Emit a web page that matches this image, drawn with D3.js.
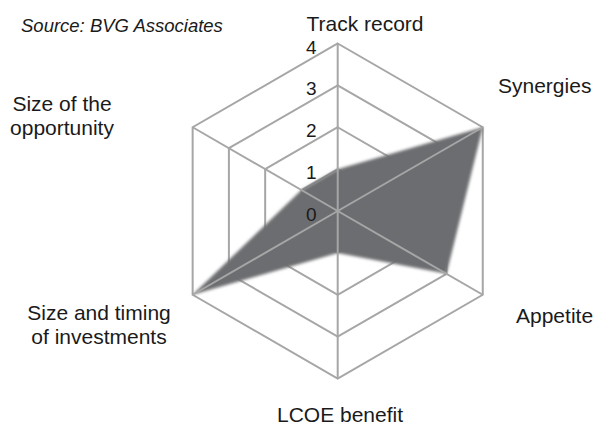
<!DOCTYPE html>
<html>
<head>
<meta charset="utf-8">
<script src="https://cdn.jsdelivr.net/npm/d3@7"></script>
<style>
  body { margin: 0; background: #fff; }
  text { font-family: "Liberation Sans", Arial, sans-serif; fill: #1a1a1a; }
</style>
</head>
<body>
<div id="chart"></div>
<script>
var w = 595, h = 425;

// axis names, clockwise from the top
var categories = ["Track record", "Synergies", "Appetite", "LCOE benefit",
                  "Size and timing of investments", "Size of the opportunity"];
var values = [1, 4, 3, 1, 4, 1];
var ticks = [0, 1, 2, 3, 4];

var cx = 337.7, cy = 211, R = 167.5;

var r = d3.scaleLinear().domain([0, 4]).range([0, R]);
var angle = d3.scaleLinear().domain([0, categories.length]).range([0, 2 * Math.PI]);

function pt(i, v) {
  var a = angle(i);
  return [cx + r(v) * Math.sin(a), cy - r(v) * Math.cos(a)];
}

var svg = d3.select("#chart").append("svg")
    .attr("width", w)
    .attr("height", h);

var defs = svg.append("defs");
defs.append("filter")
    .attr("id", "soft")
    .attr("x", "-10%").attr("y", "-10%")
    .attr("width", "120%").attr("height", "120%")
    .append("feGaussianBlur")
    .attr("stdDeviation", 1.6);

var line = d3.line().curve(d3.curveLinearClosed);

// hexagon rings
svg.append("g").selectAll("path")
    .data(ticks.slice(1))
    .enter()
    .append("path")
    .attr("d", function(t) { return line(categories.map(function(c, i) { return pt(i, t); })); })
    .attr("fill", "none")
    .attr("stroke", "#a6a6a6")
    .attr("stroke-width", 2);

// data area
svg.append("path")
    .attr("d", line(values.map(function(v, i) { return pt(i, v); })))
    .attr("fill", "#6c6d70")
    .attr("filter", "url(#soft)");

// spokes
svg.append("g").selectAll("line")
    .data(categories)
    .enter()
    .append("line")
    .attr("x1", cx).attr("y1", cy)
    .attr("x2", function(c, i) { return pt(i, 4)[0]; })
    .attr("y2", function(c, i) { return pt(i, 4)[1]; })
    .attr("stroke", "#a6a6a6")
    .attr("stroke-width", 2);

// tick labels
svg.append("g").selectAll("text")
    .data(ticks)
    .enter()
    .append("text")
    .attr("x", cx - 21)
    .attr("y", function(t) { return cy - r(t) + 10; })
    .attr("text-anchor", "end")
    .style("font-size", "19px")
    .text(function(t) { return t; });

// axis labels
var labelPos = [
  { x: 365, y: 31, anchor: "middle", lines: ["Track record"] },
  { x: 498, y: 93, anchor: "start", lines: ["Synergies"] },
  { x: 516, y: 323, anchor: "start", lines: ["Appetite"] },
  { x: 340, y: 422, anchor: "middle", lines: ["LCOE benefit"] },
  { x: 99, y: 320, anchor: "middle", lines: ["Size and timing", "of investments"] },
  { x: 62, y: 111, anchor: "middle", lines: ["Size of the", "opportunity"] }
];

labelPos.forEach(function(p) {
  var t = svg.append("text")
      .attr("x", p.x)
      .attr("y", p.y)
      .attr("text-anchor", p.anchor)
      .style("font-size", "21px");
  p.lines.forEach(function(s, k) {
    t.append("tspan")
        .attr("x", p.x)
        .attr("dy", k == 0 ? 0 : 23.5)
        .text(s);
  });
});

svg.append("text")
    .attr("x", 21)
    .attr("y", 32)
    .style("font-size", "18.5px")
    .style("font-style", "italic")
    .text("Source: BVG Associates");
</script>
</body>
</html>
